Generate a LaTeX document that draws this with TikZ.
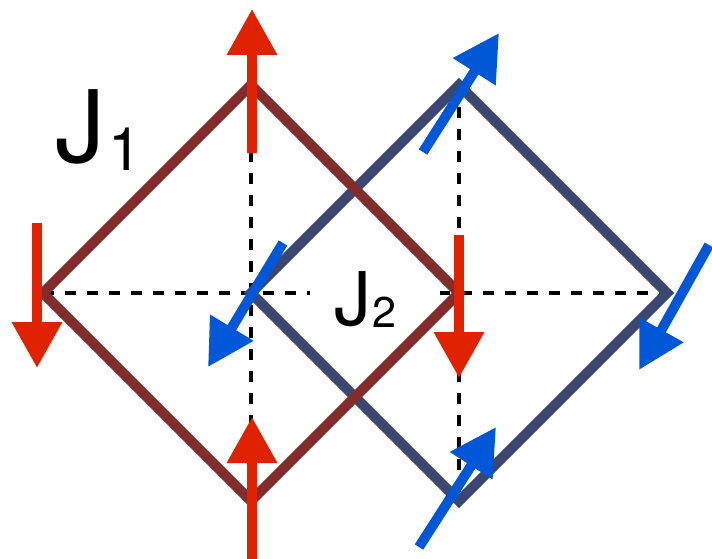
\documentclass[tikz,border=0pt]{standalone}
\usepackage{fontspec}
\setmainfont{TeX Gyre Heros}
\usetikzlibrary{arrows.meta}
\definecolor{spinred}{HTML}{E02200}
\definecolor{spinblue}{HTML}{0057D8}
\definecolor{plaqred}{HTML}{822C2C}
\definecolor{plaqblue}{HTML}{3B4770}
\begin{document}
\begin{tikzpicture}[x=1pt,y=-1pt,
  plaq/.style={line width=10pt, line join=miter},
  spin/.style={line width=10pt, -{Triangle[width=48pt,length=46pt]}},
  bond/.style={line width=4.5pt, dash pattern=on 11pt off 11pt}]
\useasboundingbox (0,0) rectangle (712,559);
% plaquette vertices
\coordinate (rT) at (251,85);
\coordinate (rL) at (43,293);
\coordinate (rB) at (251,501);
\coordinate (rR) at (459,293);
\coordinate (bT) at (459,85);
\coordinate (bL) at (251,293);
\coordinate (bB) at (459,501);
\coordinate (bR) at (667,293);
% dashed bonds
\draw[bond] (rL) -- (bR);
\draw[bond] (rT) -- (rB);
\draw[bond] (bT) -- (bB);
% J2 label with white background
\path[fill=white] (310,268) rectangle (440,330);
\node[anchor=base west, inner sep=0pt] (J2) at (334,325)
  {\fontsize{74}{74}\selectfont J\raisebox{-2pt}{\fontsize{43}{43}\selectfont\kern1pt 2}};
% plaquettes
\draw[plaq, plaqblue] (bT) -- (bR) -- (bB) -- (bL) -- cycle;
\draw[plaq, plaqred] (rT) -- (rR) -- (rB) -- (rL) -- cycle;
% J1 label
\node[anchor=base west, inner sep=0pt] (J1) at (55,162)
  {\fontsize{100}{100}\selectfont J\raisebox{-8pt}{\fontsize{60}{60}\selectfont\kern3pt 1}};
% red spins
\coordinate (r1s) at (252,153); \coordinate (r1e) at (252,9);
\coordinate (r2s) at (37,223);  \coordinate (r2e) at (37,368);
\coordinate (r3s) at (459,235); \coordinate (r3e) at (459,378);
\coordinate (r4s) at (252,559); \coordinate (r4e) at (252,417);
\draw[spin, spinred] (r1s) -- (r1e);
\draw[spin, spinred] (r2s) -- (r2e);
\draw[spin, spinred] (r3s) -- (r3e);
\draw[spin, spinred] (r4s) -- (r4e);
% blue spins
\coordinate (b1s) at (423,152); \coordinate (b1e) at (499,33);
\coordinate (b2s) at (283,243); \coordinate (b2e) at (208,367);
\coordinate (b3s) at (709,245); \coordinate (b3e) at (639,370);
\coordinate (b4s) at (419,547); \coordinate (b4e) at (496,427);
\draw[spin, spinblue] (b1s) -- (b1e);
\draw[spin, spinblue] (b2s) -- (b2e);
\draw[spin, spinblue] (b3s) -- (b3e);
\draw[spin, spinblue] (b4s) -- (b4e);
\end{tikzpicture}
\end{document}
